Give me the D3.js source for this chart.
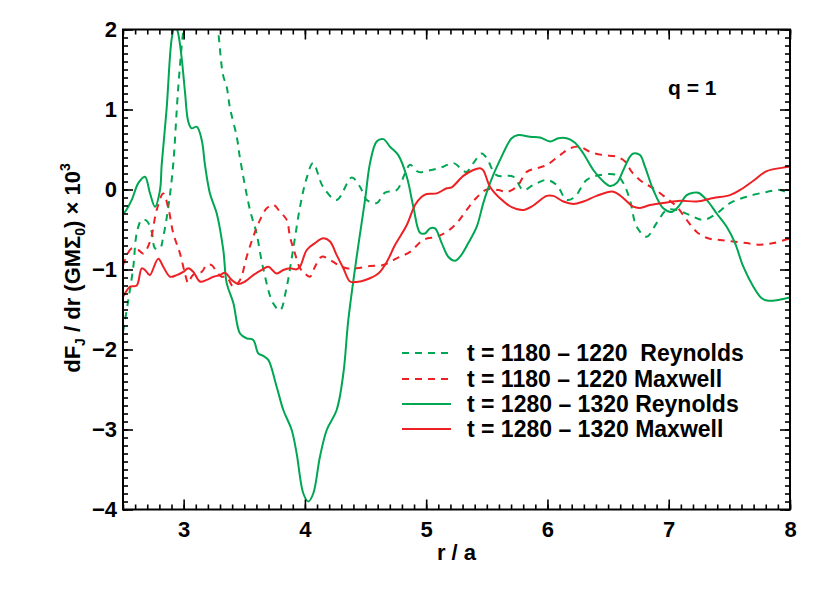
<!DOCTYPE html>
<html><head><meta charset="utf-8">
<script src="https://cdn.jsdelivr.net/npm/d3@7"></script>
<style>
html,body{margin:0;padding:0;background:#fff;}
text{font-family:"Liberation Sans",Arial,Helvetica,sans-serif;font-weight:bold;fill:#000;}
</style></head>
<body><svg id="chart" width="830" height="600"></svg>
<script>
// ---- data (r/a, dF_J/dr x 10^3) ----
const rGD = [2.50,2.544,2.585,2.613,2.654,2.695,2.737,2.764,2.805,2.832,2.874,2.912,2.956,2.997,3.05,3.13,3.22,3.283,3.325,3.355,3.382,3.438,3.465,3.547,3.60,3.654,3.737,3.795,3.85,3.902,3.96,4.01,4.067,4.149,4.262,4.386,4.454,4.51,4.592,4.66,4.757,4.825,4.867,4.935,5.032,5.141,5.224,5.33,5.389,5.458,5.50,5.58,5.718,5.80,5.883,5.994,6.076,6.159,6.227,6.324,6.434,6.571,6.626,6.68,6.736,6.818,6.90,6.983,7.066,7.175,7.285,7.396,7.505,7.643,7.808,7.918,8.0];
const vGD = [-1.78,-1.38,-0.965,-0.55,-0.38,-0.39,-0.53,-0.735,-0.735,-0.59,-0.215,0.28,1.285,1.99,2.6,3.0,2.7,2.0,1.43,1.285,1.02,0.66,0.39,-0.256,-0.54,-0.97,-1.42,-1.51,-1.215,-0.756,-0.215,0.12,0.33,0.035,-0.13,0.15,0.035,-0.13,-0.17,-0.04,-0.006,0.2,0.31,0.22,0.24,0.285,0.33,0.22,0.33,0.45,0.39,0.18,0.16,-0.006,0.056,0.12,0.056,-0.13,-0.09,0.12,0.18,0.18,0.08,-0.13,-0.465,-0.59,-0.42,-0.256,-0.256,-0.32,-0.38,-0.30,-0.17,-0.09,-0.03,-0.006,-0.06];

const rRD = [2.50,2.516,2.572,2.626,2.667,2.723,2.778,2.832,2.874,2.915,2.97,3.011,3.038,3.066,3.094,3.149,3.19,3.231,3.273,3.314,3.355,3.41,3.465,3.52,3.574,3.63,3.685,3.739,3.795,3.85,3.877,3.918,3.96,4.0,4.042,4.083,4.139,4.207,4.275,4.345,4.427,4.537,4.646,4.757,4.867,4.976,5.087,5.169,5.252,5.334,5.417,5.50,5.595,5.664,5.747,5.829,5.911,5.994,6.104,6.186,6.268,6.351,6.461,6.571,6.64,6.695,6.777,6.873,6.983,7.066,7.148,7.231,7.324,7.423,7.533,7.643,7.753,7.862,8.0];
const vRD = [-0.95,-0.88,-0.735,-0.756,-0.80,-0.65,-0.256,-0.05,-0.235,-0.55,-0.80,-1.05,-1.17,-1.09,-1.05,-1.03,-0.944,-0.944,-1.03,-1.09,-1.09,-1.215,-1.13,-0.84,-0.59,-0.38,-0.235,-0.19,-0.28,-0.38,-0.59,-0.80,-0.985,-1.05,-1.09,-0.965,-0.84,-0.88,-0.944,-0.985,-0.985,-0.956,-0.944,-0.86,-0.78,-0.63,-0.59,-0.53,-0.42,-0.256,-0.10,0.0,-0.006,-0.03,0.035,0.22,0.265,0.306,0.43,0.515,0.535,0.47,0.43,0.41,0.35,0.22,0.10,0.015,-0.11,-0.215,-0.38,-0.53,-0.61,-0.63,-0.65,-0.67,-0.69,-0.67,-0.61];

const rGS = [2.50,2.516,2.572,2.626,2.681,2.723,2.764,2.805,2.819,2.86,2.902,2.93,2.955,2.984,3.011,3.038,3.066,3.108,3.149,3.176,3.217,3.273,3.327,3.355,3.41,3.465,3.52,3.574,3.616,3.657,3.698,3.767,3.822,3.891,3.932,3.987,4.028,4.069,4.124,4.18,4.262,4.317,4.358,4.427,4.496,4.537,4.592,4.647,4.702,4.77,4.84,4.894,4.949,4.99,5.032,5.073,5.128,5.182,5.238,5.279,5.347,5.417,5.471,5.526,5.609,5.705,5.76,5.856,5.939,6.021,6.09,6.159,6.227,6.296,6.378,6.461,6.516,6.571,6.626,6.68,6.708,6.763,6.804,6.873,6.955,7.025,7.079,7.148,7.203,7.244,7.313,7.396,7.478,7.547,7.615,7.698,7.767,7.821,7.904,8.0];
const vGS = [-0.30,-0.28,-0.13,0.08,0.16,-0.05,-0.215,-0.006,0.31,1.015,1.89,2.06,1.95,1.64,1.22,0.85,0.765,0.785,0.62,0.306,-0.05,-0.30,-0.756,-1.17,-1.42,-1.80,-1.86,-1.88,-2.05,-2.08,-2.13,-2.465,-2.756,-3.006,-3.30,-3.80,-3.90,-3.80,-3.34,-3.006,-2.756,-2.30,-1.63,-0.84,-0.13,0.33,0.60,0.63,0.535,0.43,0.16,-0.215,-0.54,-0.55,-0.485,-0.485,-0.67,-0.84,-0.89,-0.84,-0.67,-0.465,-0.17,0.08,0.37,0.64,0.68,0.66,0.65,0.60,0.64,0.64,0.585,0.45,0.244,0.10,0.044,0.08,0.244,0.41,0.45,0.43,0.285,-0.006,-0.235,-0.28,-0.215,-0.07,-0.04,-0.04,-0.13,-0.30,-0.465,-0.67,-0.965,-1.215,-1.36,-1.39,-1.38,-1.35];

const rRS = [2.50,2.516,2.558,2.613,2.654,2.681,2.709,2.723,2.791,2.832,2.888,2.943,2.997,3.038,3.08,3.135,3.19,3.245,3.30,3.341,3.396,3.451,3.506,3.574,3.644,3.698,3.767,3.822,3.877,3.932,3.96,4.015,4.083,4.152,4.207,4.262,4.317,4.372,4.427,4.51,4.605,4.675,4.743,4.84,4.908,4.963,5.004,5.087,5.169,5.21,5.306,5.389,5.444,5.471,5.526,5.609,5.705,5.80,5.883,5.994,6.048,6.131,6.213,6.296,6.406,6.543,6.626,6.708,6.763,6.846,6.97,7.094,7.23,7.368,7.505,7.588,7.698,7.808,7.973,8.0];
const vRS = [-1.34,-1.30,-1.215,-1.20,-0.985,-1.006,-1.056,-1.07,-0.865,-0.965,-1.09,-1.07,-1.03,-0.985,-1.03,-1.15,-1.13,-1.09,-1.07,-1.04,-1.13,-1.18,-1.15,-1.07,-1.006,-0.965,-1.05,-1.006,-0.985,-0.998,-0.965,-0.756,-0.67,-0.61,-0.65,-0.82,-0.985,-1.15,-1.156,-1.125,-1.05,-0.906,-0.694,-0.444,-0.194,-0.09,-0.056,-0.048,0.015,0.027,0.17,0.244,0.265,0.24,0.035,-0.11,-0.22,-0.256,-0.20,-0.08,-0.08,-0.15,-0.18,-0.15,-0.08,-0.027,-0.11,-0.215,-0.23,-0.194,-0.165,-0.14,-0.15,-0.106,-0.07,-0.006,0.11,0.23,0.28,0.29];

const seriesLabels = ["t = 1180 \u2013 1220  Reynolds","t = 1180 \u2013 1220 Maxwell","t = 1280 \u2013 1320 Reynolds","t = 1280 \u2013 1320 Maxwell"];
const xTicks = [3,4,5,6,7,8];
const yTicks = [-4,-3,-2,-1,0,1,2];

// ---- drawing ----
const GREEN = "#00a651", RED = "#ed2024";
const series = [
  {r:rGD, v:vGD, color:GREEN, dash:"7,6"},
  {r:rRD, v:vRD, color:RED,   dash:"7,6"},
  {r:rGS, v:vGS, color:GREEN, dash:null},
  {r:rRS, v:vRS, color:RED,   dash:null}
];

const L=123, R=790, T=29.5, B=509.5;
const x = d3.scaleLinear().domain([2.5,8]).range([L,R]);
const y = d3.scaleLinear().domain([-4,2]).range([B,T]);
const svg = d3.select("#chart");

svg.append("defs").append("clipPath").attr("id","clip")
  .append("rect").attr("x",L).attr("y",T).attr("width",R-L).attr("height",B-T);

const line = d3.line().x(d=>x(d[0])).y(d=>y(d[1])).curve(d3.curveCatmullRom.alpha(0.5));
const g = svg.append("g").attr("clip-path","url(#clip)");
series.forEach(s=>{
  const pts = s.r.map((r,i)=>[r,s.v[i]]);
  g.append("path").datum(pts).attr("d",line)
    .attr("fill","none").attr("stroke",s.color).attr("stroke-width",2)
    .attr("stroke-dasharray",s.dash);
});

// axes
const minorX = d3.range(25,81).map(v=>v/10);
const minorY = d3.range(-40,21).map(v=>v/10);
function styleAxis(sel){
  sel.select(".domain").remove();
  sel.selectAll("line").attr("stroke","#000").attr("stroke-width",1.6);
  sel.selectAll("text").style("font-size","22px").style("font-family","'Liberation Sans',Arial,sans-serif").style("font-weight","bold");
}
const fmt = d => d3.format("d")(d).replace("-","\u2212");
svg.append("g").attr("transform",`translate(0,${B})`)
  .call(d3.axisBottom(x).tickValues(minorX).tickSizeInner(-5).tickSizeOuter(0).tickFormat("")).call(styleAxis);
svg.append("g").attr("transform",`translate(0,${B})`)
  .call(d3.axisBottom(x).tickValues(xTicks).tickSizeInner(-10).tickSizeOuter(0).tickPadding(12).tickFormat(d3.format("d"))).call(styleAxis);
svg.append("g").attr("transform",`translate(0,${T})`)
  .call(d3.axisTop(x).tickValues(minorX).tickSizeInner(-5).tickSizeOuter(0).tickFormat("")).call(styleAxis);
svg.append("g").attr("transform",`translate(0,${T})`)
  .call(d3.axisTop(x).tickValues(xTicks).tickSizeInner(-10).tickSizeOuter(0).tickFormat("")).call(styleAxis);
svg.append("g").attr("transform",`translate(${L},0)`)
  .call(d3.axisLeft(y).tickValues(minorY).tickSizeInner(-5).tickSizeOuter(0).tickFormat("")).call(styleAxis);
svg.append("g").attr("transform",`translate(${L},0)`)
  .call(d3.axisLeft(y).tickValues(yTicks).tickSizeInner(-10).tickSizeOuter(0).tickPadding(6).tickFormat(fmt)).call(styleAxis);
svg.append("g").attr("transform",`translate(${R},0)`)
  .call(d3.axisRight(y).tickValues(minorY).tickSizeInner(-5).tickSizeOuter(0).tickFormat("")).call(styleAxis);
svg.append("g").attr("transform",`translate(${R},0)`)
  .call(d3.axisRight(y).tickValues(yTicks).tickSizeInner(-10).tickSizeOuter(0).tickFormat("")).call(styleAxis);

svg.append("rect").attr("x",L).attr("y",T).attr("width",R-L).attr("height",B-T)
  .attr("fill","none").attr("stroke","#000").attr("stroke-width",2);

// axis titles
svg.append("text").attr("x",(L+R)/2).attr("y",560).attr("text-anchor","middle")
  .style("font-size","22px").text("r / a");

const yt = svg.append("text").attr("transform","translate(80,268) rotate(-90)")
  .attr("text-anchor","middle").style("font-size","22px");
yt.append("tspan").text("dF");
yt.append("tspan").attr("dy",5).style("font-size","14px").text("J");
yt.append("tspan").attr("dy",-5).text(" / dr (GM\u03A3");
yt.append("tspan").attr("dy",5).style("font-size","14px").text("0");
yt.append("tspan").attr("dy",-5).text(") \u00D7 10");
yt.append("tspan").attr("dy",-10).style("font-size","14px").text("3");

svg.append("text").attr("x",668).attr("y",95).style("font-size","21px").text("q = 1");

// legend
const legY = [353,379,404,429];
series.forEach((s,i)=>{
  svg.append("line").attr("x1",402).attr("x2",451).attr("y1",legY[i]).attr("y2",legY[i])
    .attr("stroke",s.color).attr("stroke-width",2).attr("stroke-dasharray",s.dash);
  svg.append("text").attr("x",467).attr("y",legY[i]+8).style("font-size","23px")
    .attr("xml:space","preserve").style("white-space","pre").text(seriesLabels[i]);
});
</script></body></html>
